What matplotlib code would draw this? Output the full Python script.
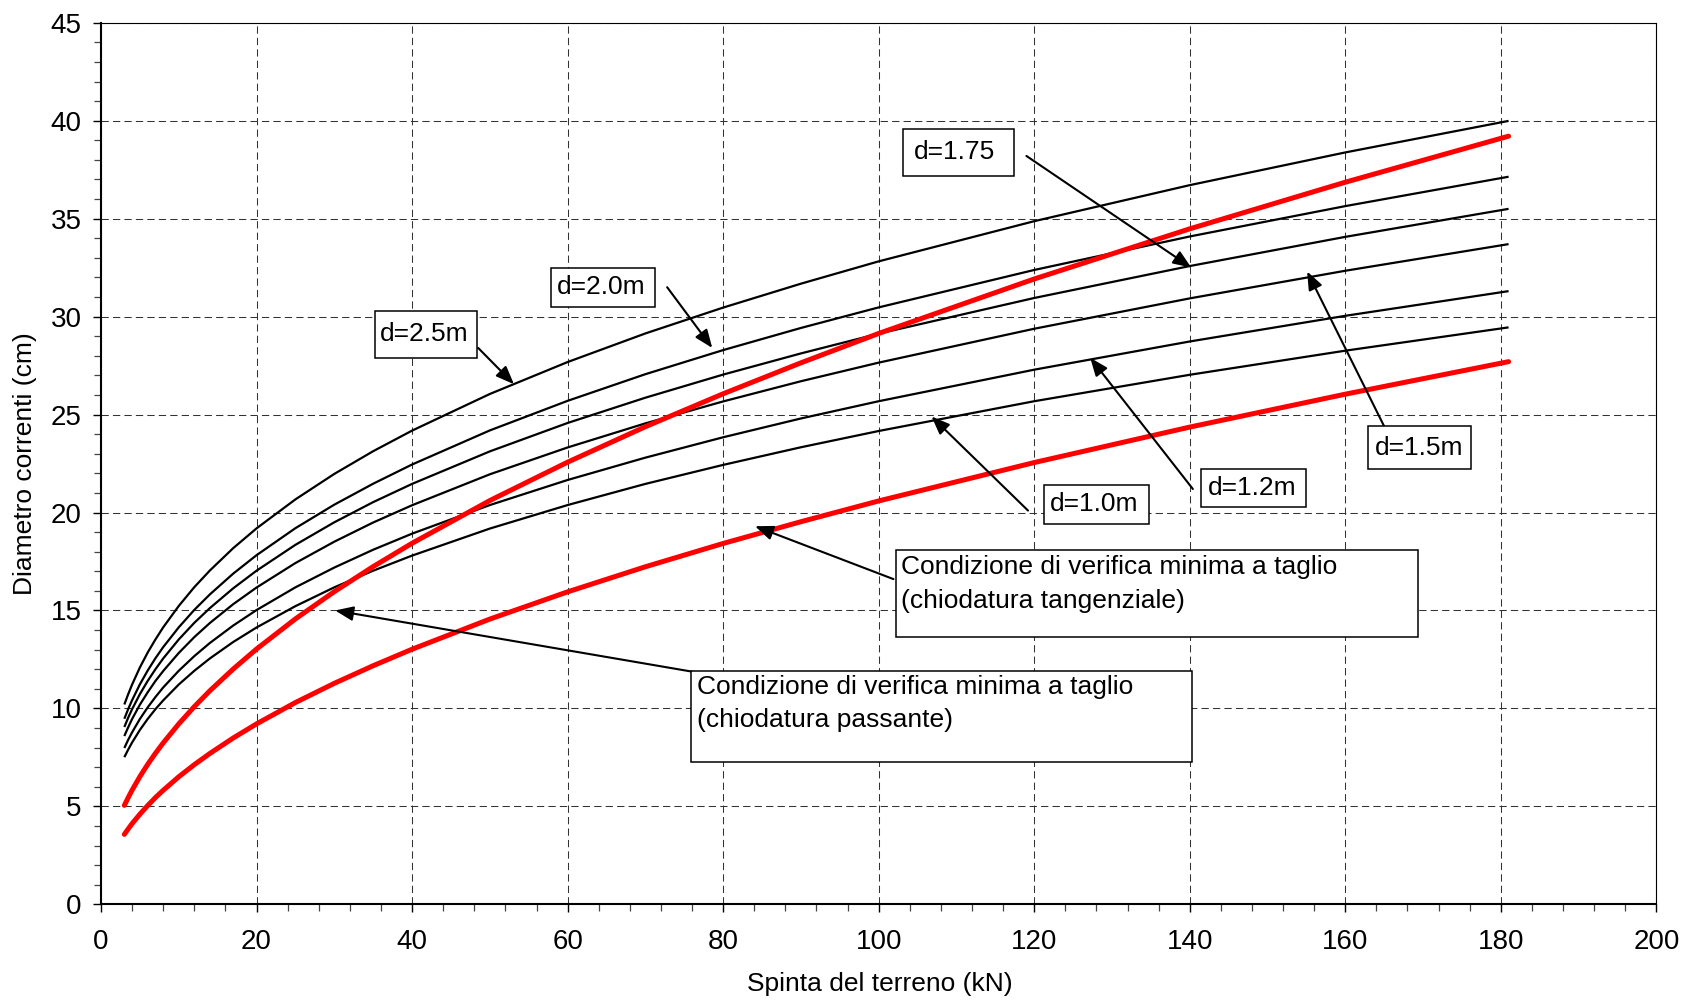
import matplotlib
matplotlib.use('Agg')
import matplotlib.pyplot as plt
from matplotlib.patches import Rectangle
from matplotlib.ticker import MultipleLocator

plt.rcParams['font.family'] = ['Liberation Sans', 'DejaVu Sans']

# ---- data ----
x_kn = [3, 3.5, 4, 5, 6, 7, 8, 10, 12, 14, 17, 20, 25, 30, 35, 40, 50, 60, 70, 80, 90, 100, 120, 140, 160, 181]

d_2_5 = [10.20, 10.73, 11.22, 12.09, 12.85, 13.52, 14.14, 15.23, 16.19, 17.04, 18.18, 19.19, 20.67,
         21.97, 23.13, 24.18, 26.05, 27.68, 29.14, 30.46, 31.68, 32.82, 34.87, 36.71, 38.38, 39.99]
d_2_0 = [9.47, 9.97, 10.42, 11.23, 11.93, 12.56, 13.13, 14.14, 15.03, 15.82, 16.88, 17.82, 19.20,
         20.40, 21.47, 22.45, 24.19, 25.70, 27.06, 28.29, 29.42, 30.47, 32.38, 34.09, 35.64, 37.14]
d_1_75 = [9.05, 9.53, 9.96, 10.73, 11.40, 12.00, 12.55, 13.52, 14.37, 15.12, 16.13, 17.03, 18.35,
          19.50, 20.53, 21.46, 23.12, 24.57, 25.86, 27.04, 28.12, 29.13, 30.95, 32.58, 34.07, 35.50]
d_1_5 = [8.59, 9.04, 9.46, 10.19, 10.82, 11.40, 11.91, 12.83, 13.64, 14.36, 15.32, 16.17, 17.42,
         18.51, 19.49, 20.37, 21.95, 23.32, 24.55, 25.67, 26.70, 27.65, 29.38, 30.93, 32.34, 33.70]
d_1_2 = [7.98, 8.40, 8.78, 9.46, 10.05, 10.58, 11.07, 11.92, 12.67, 13.34, 14.23, 15.02, 16.18,
         17.19, 18.10, 18.92, 20.38, 21.66, 22.80, 23.84, 24.80, 25.68, 27.29, 28.73, 30.04, 31.30]
d_1_0 = [7.51, 7.90, 8.26, 8.90, 9.46, 9.96, 10.41, 11.22, 11.92, 12.55, 13.39, 14.13, 15.22,
         16.18, 17.03, 17.80, 19.18, 20.38, 21.46, 22.43, 23.33, 24.16, 25.68, 27.03, 28.26, 29.45]

taglio_passante = [5.05, 5.45, 5.83, 6.52, 7.14, 7.71, 8.24, 9.21, 10.09, 10.90, 12.01, 13.03, 14.57,
                   15.96, 17.24, 18.43, 20.61, 22.57, 24.38, 26.06, 27.64, 29.14, 31.92, 34.48, 36.86, 39.21]
taglio_tangenziale = [3.57, 3.85, 4.12, 4.60, 5.04, 5.45, 5.82, 6.51, 7.13, 7.70, 8.49, 9.21, 10.30,
                      11.28, 12.18, 13.02, 14.56, 15.95, 17.23, 18.42, 19.53, 20.59, 22.55, 24.36, 26.04, 27.70]

black_series = [d_2_5, d_2_0, d_1_75, d_1_5, d_1_2, d_1_0]
red_series = [taglio_passante, taglio_tangenziale]

x_label = "Spinta del terreno (kN)"
y_label = "Diametro correnti (cm)"

# label boxes: (text lines, box x0, x1, y0, y1, text x, text y list, arrow start, arrow tip)
labels = [
    (["d=1.75"], 103.1, 117.4, 37.2, 39.6, 104.5, [38.4], (119.0, 38.2), (140.2, 32.5)),
    (["d=2.0m"], 57.9, 71.2, 30.5, 32.5, 58.6, [31.5], (72.8, 31.5), (78.6, 28.4)),
    (["d=2.5m"], 35.2, 48.3, 27.9, 30.3, 35.85, [29.1], (48.5, 28.4), (53.1, 26.55)),
    (["d=1.5m"], 162.9, 176.2, 22.2, 24.4, 163.75, [23.3], (165.0, 24.4), (155.1, 32.3)),
    (["d=1.2m"], 141.5, 155.0, 20.3, 22.2, 142.3, [21.27], (140.4, 21.2), (127.2, 27.9)),
    (["d=1.0m"], 121.3, 134.8, 19.4, 21.4, 121.95, [20.42], (119.2, 20.1), (106.8, 24.9)),
    (["Condizione di verifica minima a taglio", "(chiodatura tangenziale)"],
     102.2, 169.3, 13.63, 18.07, 102.9, [17.24, 15.49], (101.9, 16.6), (84.1, 19.3)),
    (["Condizione di verifica minima a taglio", "(chiodatura passante)"],
     75.85, 140.26, 7.27, 11.93, 76.7, [11.11, 9.41], (76.1, 11.87), (30.1, 15.0)),
]

fig = plt.figure(figsize=(16.82, 10.02), dpi=100)
ax = fig.add_axes([0.06005, 0.0975, 0.9247, 0.8798])

ax.set_xlim(0, 200)
ax.set_ylim(0, 45)
ax.xaxis.set_major_locator(MultipleLocator(20))
ax.xaxis.set_minor_locator(MultipleLocator(4))
ax.yaxis.set_major_locator(MultipleLocator(5))
ax.yaxis.set_minor_locator(MultipleLocator(1))

ax.grid(True, which='major', color='#333333', linestyle=(0, (7, 4)), linewidth=0.75)
ax.set_axisbelow(True)

for s in black_series:
    ax.plot(x_kn, s, color='black', lw=1.6, zorder=3, solid_capstyle='butt', solid_joinstyle='round')
for s in red_series:
    ax.plot(x_kn, s, color='#ff0000', lw=3.6, zorder=4, solid_capstyle='round', solid_joinstyle='round')

ax.tick_params(axis='both', which='major', direction='out', length=6, width=1.0,
               labelsize=20, colors='black')
ax.tick_params(axis='both', which='minor', direction='out', length=5, width=0.9, color='#444444')
ax.tick_params(axis='y', which='major', pad=8)
ax.tick_params(axis='x', which='major', pad=12)

for side in ['left', 'bottom']:
    ax.spines[side].set_linewidth(1.5)
for side in ['top', 'right']:
    ax.spines[side].set_linewidth(0.8)

ax.set_xlabel(x_label, fontsize=19)
ax.xaxis.set_label_coords(0.501, -0.077)
ax.xaxis.label.set_verticalalignment('top')
ax.set_ylabel(y_label, fontsize=19)
ax.yaxis.set_label_coords(-0.0488, 0.5)
ax.yaxis.label.set_verticalalignment('center')

for lines, x0, x1, y0, y1, tx, tys, a_from, a_to in labels:
    ax.annotate('', xy=a_to, xytext=a_from,
                arrowprops=dict(arrowstyle='-|>,head_length=0.55,head_width=0.22',
                                color='black', lw=1.5, shrinkA=0, shrinkB=0,
                                mutation_scale=20),
                zorder=6)
    ax.add_patch(Rectangle((x0, y0), x1 - x0, y1 - y0, facecolor='white',
                           edgecolor='black', lw=1.1, zorder=7))
    for line, ty in zip(lines, tys):
        ax.text(tx, ty, line, fontsize=19, ha='left', va='center', zorder=8)

fig.savefig('out.png', dpi=100)
